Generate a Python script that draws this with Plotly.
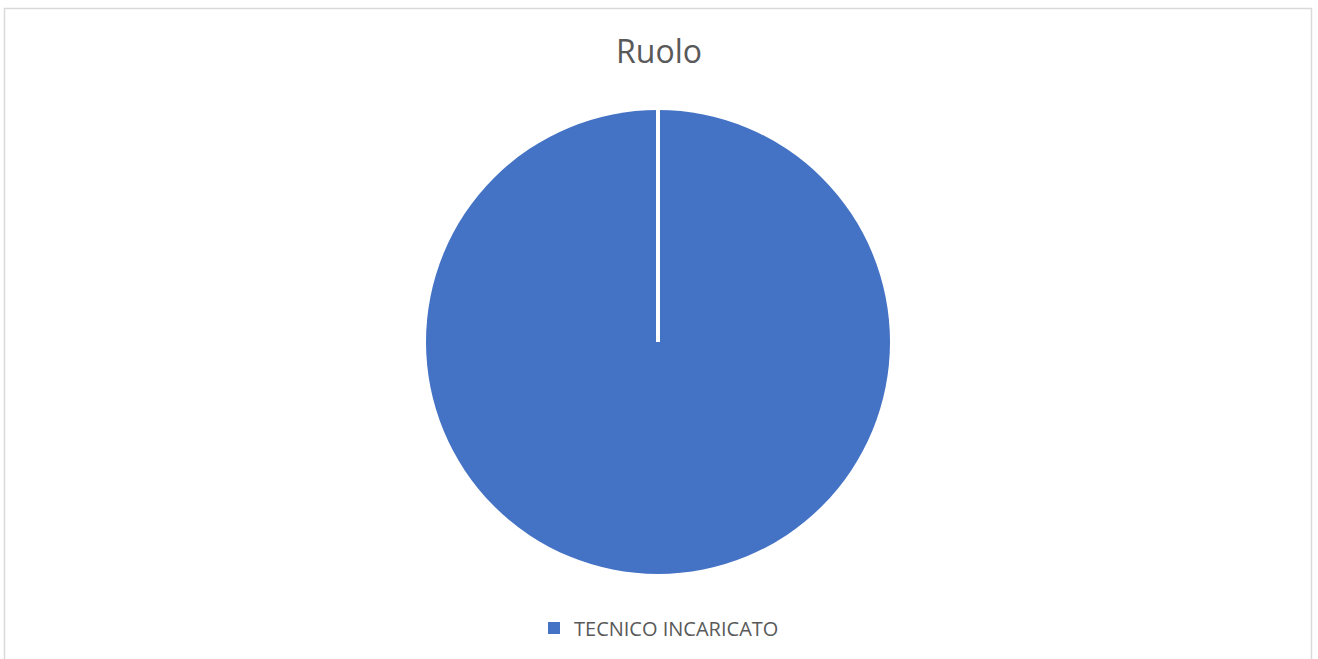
import plotly.graph_objects as go

# Role breakdown
labels = ["TECNICO INCARICATO"]
counts = [1]

W, H = 1318, 659
cx, cy, r = 658, 342, 232  # pie centre / radius in pixels

fig = go.Figure(
    go.Pie(
        labels=labels,
        values=counts,
        marker=dict(colors=["#4472C4"], line=dict(color="white", width=0)),
        textinfo="none",
        hoverinfo="label+percent",
        sort=False,
        direction="clockwise",
        rotation=0,
        domain=dict(
            x=[(cx - r) / W, (cx + r) / W],
            y=[(H - cy - r) / H, (H - cy + r) / H],
        ),
    )
)

shapes = [
    # chart-area border
    dict(type="rect", xref="paper", yref="paper",
         x0=4.5 / W, x1=1311.5 / W, y0=-0.05, y1=1 - 8.5 / H,
         line=dict(color="#d9d9d9", width=1.5), fillcolor="rgba(0,0,0,0)"),
    # white separator at the slice start
    dict(type="line", xref="paper", yref="paper",
         x0=cx / W, x1=cx / W, y0=(H - cy) / H, y1=(H - cy + r + 2) / H,
         line=dict(color="white", width=4)),
]

fig.update_layout(
    width=W, height=H,
    margin=dict(l=0, r=0, t=0, b=0),
    paper_bgcolor="white",
    title=dict(text="Ruolo", x=0.5, xanchor="center", y=1 - 52 / H, yanchor="middle",
               font=dict(family="Open Sans", size=32, color="#595959")),
    showlegend=True,
    legend=dict(orientation="h", x=0.5, xanchor="center", y=1 - 628 / H, yanchor="middle",
                font=dict(family="Open Sans", size=20, color="#595959"),
                itemclick=False),
    shapes=shapes,
)

fig.write_html("out.html")
